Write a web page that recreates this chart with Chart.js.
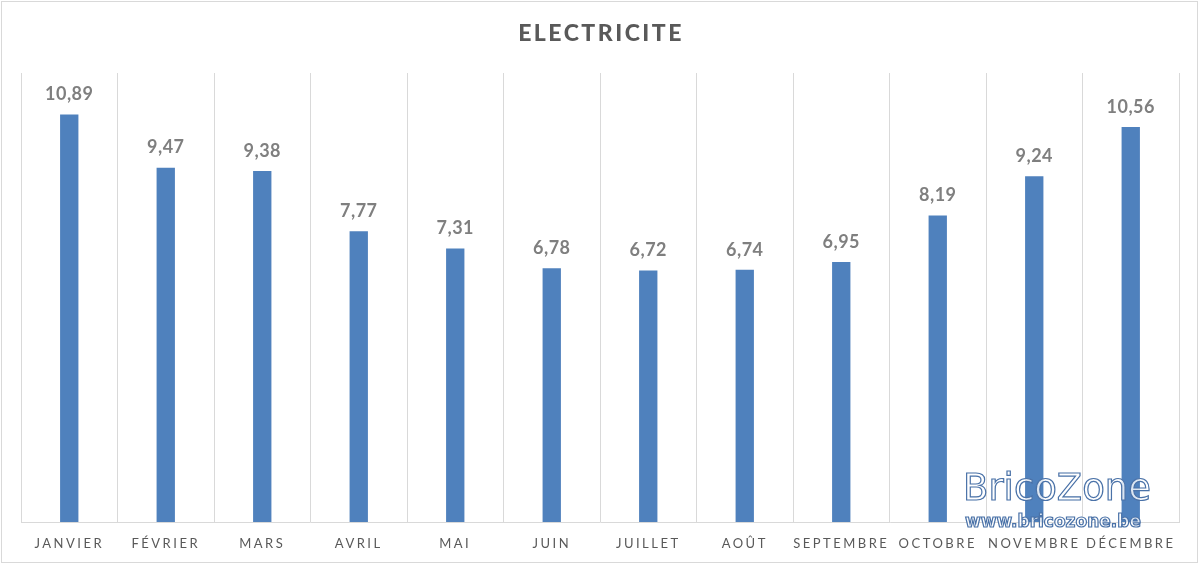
<!DOCTYPE html>
<html>
<head>
<meta charset="utf-8">
<script src="https://cdn.jsdelivr.net/npm/chart.js@4.4.0/dist/chart.umd.min.js"></script>
<style>
    html, body { margin: 0; padding: 0; background: #fff; }
    #wrap { width: 1200px; height: 565px; }
</style>
</head>
<body>
<div id="wrap"><canvas id="chart1"></canvas></div>
<script>
const mois = ['JANVIER', 'FÉVRIER', 'MARS', 'AVRIL', 'MAI', 'JUIN', 'JUILLET', 'AOÛT', 'SEPTEMBRE', 'OCTOBRE', 'NOVEMBRE', 'DÉCEMBRE'];
const electricite = [10.89, 9.47, 9.38, 7.77, 7.31, 6.78, 6.72, 6.74, 6.95, 8.19, 9.24, 10.56];
const titre = 'ELECTRICITE';

// cadre, titre, etiquettes et filigrane
const habillage = {
    id: 'habillage',
    beforeDraw(chart) {
        const ctx = chart.ctx;
        ctx.save();
        ctx.strokeStyle = '#d9d9d9';
        ctx.lineWidth = 1;
        ctx.strokeRect(1.5, 1.5, 1196, 561);
        ctx.restore();
        ctx.letterSpacing = '2.5px';
    },
    afterDatasetsDraw(chart) {
        const ctx = chart.ctx;
        const meta = chart.getDatasetMeta(0);
        ctx.save();
        ctx.letterSpacing = '0.5px';
        ctx.font = 'bold 18px Lato';
        ctx.fillStyle = '#7f7f7f';
        ctx.textAlign = 'center';
        ctx.textBaseline = 'middle';
        meta.data.forEach((bar, i) => {
            ctx.fillText(electricite[i].toFixed(2).replace('.', ','), bar.x, bar.y - 20);
        });
        ctx.restore();
    },
    afterDraw(chart) {
        const ctx = chart.ctx;
        ctx.save();
        ctx.letterSpacing = '2.5px';
        ctx.font = '900 23px Lato';
        ctx.fillStyle = '#595959';
        ctx.textAlign = 'center';
        ctx.textBaseline = 'middle';
        ctx.fillText(titre, 601, 34);

        // filigrane
        ctx.letterSpacing = '0px';
        ctx.textAlign = 'left';
        ctx.textBaseline = 'alphabetic';
        ctx.strokeStyle = '#4a72a8';
        ctx.fillStyle = 'rgba(255,255,255,0.8)';
        ctx.lineWidth = 1.2;
        ctx.font = '37px "DejaVu Sans"';
        ctx.fillText('BricoZone', 963, 500);
        ctx.strokeText('BricoZone', 963, 500);
        ctx.font = 'bold 17px "DejaVu Sans"';
        ctx.fillText('www.bricozone.be', 965, 527);
        ctx.strokeText('www.bricozone.be', 965, 527);
        ctx.restore();
    }
};

const data_elec = {
    labels: mois,
    datasets: [{
        data: electricite,
        backgroundColor: '#4f81bd',
        categoryPercentage: 1,
        barPercentage: 0.19,
    }],
};

const config_elec = {
    type: 'bar',
    data: data_elec,
    options: {
        responsive: true,
        maintainAspectRatio: false,
        animation: false,
        layout: {
            padding: { left: 21, right: 21, top: 73, bottom: 0 },
        },
        plugins: {
            legend: { display: false },
            tooltip: { enabled: false },
        },
        scales: {
            x: {
                afterFit(scale) { scale.height = 43; },
                grid: { color: '#d9d9d9', drawTicks: false, offset: true },
                border: { color: '#d9d9d9' },
                ticks: {
                    padding: 14,
                    color: '#595959',
                    font: { family: 'Lato', size: 13 },
                    maxRotation: 0,
                    autoSkip: false,
                },
            },
            y: {
                display: false,
                min: 0,
                max: 12,
            },
        },
    },
    plugins: [habillage],
};

const ctx_elec = document.getElementById('chart1').getContext('2d');
const elec = new Chart(ctx_elec, config_elec);
</script>
</body>
</html>
